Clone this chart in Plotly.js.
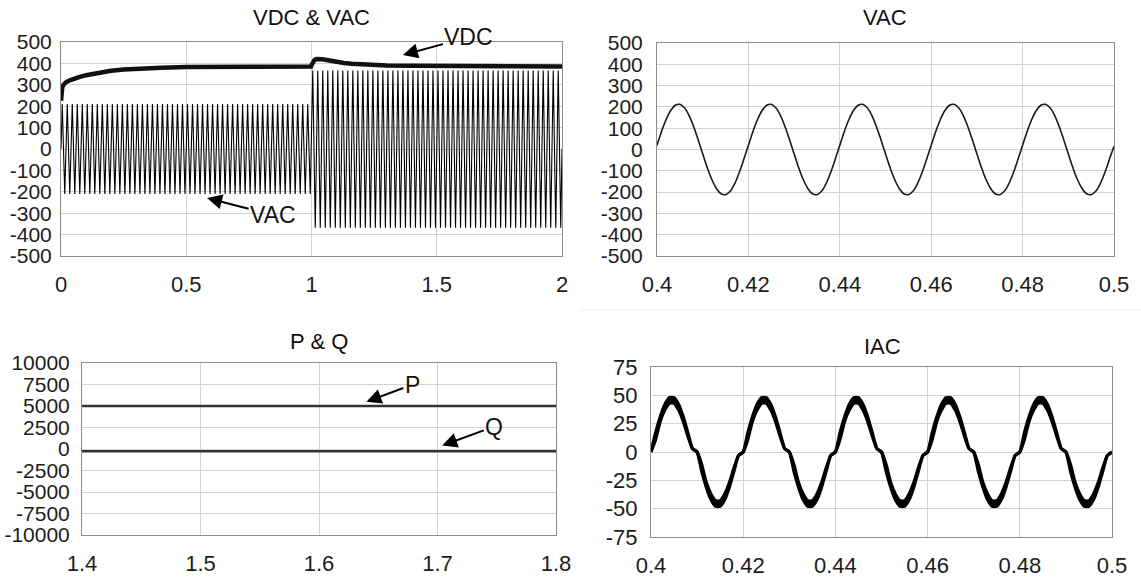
<!DOCTYPE html>
<html><head><meta charset="utf-8">
<script src="https://cdn.plot.ly/plotly-3.0.1.min.js"></script>
<style>html,body{margin:0;padding:0;background:#fff}#chart{width:1141px;height:580px}</style>
</head><body><div id="chart"></div><script>
// ---- Panel 1: VDC & VAC (0..2 s)
const vdcTime  = [0, 0.002, 0.005, 0.01, 0.02, 0.035, 0.05, 0.075, 0.1, 0.15, 0.2, 0.25, 0.3, 0.4, 0.5, 0.6, 0.8, 0.998, 1.0, 1.005, 1.012, 1.02, 1.03, 1.045, 1.06, 1.08, 1.1, 1.13, 1.16, 1.2, 1.25, 1.3, 1.4, 1.5, 1.6, 1.8, 2.0];
const vdcValue = [225, 268, 288, 300, 312, 321, 328, 337, 345, 357, 366, 371, 375, 380, 383, 384, 385, 385, 392, 408, 416, 420, 421, 419, 416, 411, 407, 402, 398, 395, 392, 390, 389, 388, 387, 386, 386];

const vacTime = [0,
0.005,0.015,0.025,0.035,0.045,0.055,0.065,0.075,0.085,0.095,
0.105,0.115,0.125,0.135,0.145,0.155,0.165,0.175,0.185,0.195,
0.205,0.215,0.225,0.235,0.245,0.255,0.265,0.275,0.285,0.295,
0.305,0.315,0.325,0.335,0.345,0.355,0.365,0.375,0.385,0.395,
0.405,0.415,0.425,0.435,0.445,0.455,0.465,0.475,0.485,0.495,
0.505,0.515,0.525,0.535,0.545,0.555,0.565,0.575,0.585,0.595,
0.605,0.615,0.625,0.635,0.645,0.655,0.665,0.675,0.685,0.695,
0.705,0.715,0.725,0.735,0.745,0.755,0.765,0.775,0.785,0.795,
0.805,0.815,0.825,0.835,0.845,0.855,0.865,0.875,0.885,0.895,
0.905,0.915,0.925,0.935,0.945,0.955,0.965,0.975,0.985,0.995,
1.005,1.015,1.025,1.035,1.045,1.055,1.065,1.075,1.085,1.095,
1.105,1.115,1.125,1.135,1.145,1.155,1.165,1.175,1.185,1.195,
1.205,1.215,1.225,1.235,1.245,1.255,1.265,1.275,1.285,1.295,
1.305,1.315,1.325,1.335,1.345,1.355,1.365,1.375,1.385,1.395,
1.405,1.415,1.425,1.435,1.445,1.455,1.465,1.475,1.485,1.495,
1.505,1.515,1.525,1.535,1.545,1.555,1.565,1.575,1.585,1.595,
1.605,1.615,1.625,1.635,1.645,1.655,1.665,1.675,1.685,1.695,
1.705,1.715,1.725,1.735,1.745,1.755,1.765,1.775,1.785,1.795,
1.805,1.815,1.825,1.835,1.845,1.855,1.865,1.875,1.885,1.895,
1.905,1.915,1.925,1.935,1.945,1.955,1.965,1.975,1.985,1.995,
2];
const vacValue = [0,
210,-210,210,-210,210,-210,210,-210,210,-210,
210,-210,210,-210,210,-210,210,-210,210,-210,
210,-210,210,-210,210,-210,210,-210,210,-210,
210,-210,210,-210,210,-210,210,-210,210,-210,
210,-210,210,-210,210,-210,210,-210,210,-210,
210,-210,210,-210,210,-210,210,-210,210,-210,
210,-210,210,-210,210,-210,210,-210,210,-210,
210,-210,210,-210,210,-210,210,-210,210,-210,
210,-210,210,-210,210,-210,210,-210,210,-210,
210,-210,210,-210,210,-210,210,-210,210,-210,
367,-368,367,-368,367,-368,367,-368,367,-368,
367,-368,367,-368,367,-368,367,-368,367,-368,
367,-368,367,-368,367,-368,367,-368,367,-368,
367,-368,367,-368,367,-368,367,-368,367,-368,
367,-368,367,-368,367,-368,367,-368,367,-368,
367,-368,367,-368,367,-368,367,-368,367,-368,
367,-368,367,-368,367,-368,367,-368,367,-368,
367,-368,367,-368,367,-368,367,-368,367,-368,
367,-368,367,-368,367,-368,367,-368,367,-368,
367,-368,367,-368,367,-368,367,-368,367,-368,
0];

// ---- Panels 2 and 4: zoomed time window 0.4..0.5 s
const zoomTime = [
0.400,0.401,0.402,0.403,0.404,0.405,0.406,0.407,0.408,0.409,
0.410,0.411,0.412,0.413,0.414,0.415,0.416,0.417,0.418,0.419,
0.420,0.421,0.422,0.423,0.424,0.425,0.426,0.427,0.428,0.429,
0.430,0.431,0.432,0.433,0.434,0.435,0.436,0.437,0.438,0.439,
0.440,0.441,0.442,0.443,0.444,0.445,0.446,0.447,0.448,0.449,
0.450,0.451,0.452,0.453,0.454,0.455,0.456,0.457,0.458,0.459,
0.460,0.461,0.462,0.463,0.464,0.465,0.466,0.467,0.468,0.469,
0.470,0.471,0.472,0.473,0.474,0.475,0.476,0.477,0.478,0.479,
0.480,0.481,0.482,0.483,0.484,0.485,0.486,0.487,0.488,0.489,
0.490,0.491,0.492,0.493,0.494,0.495,0.496,0.497,0.498,0.499,
0.500];
const vacZoomValue = [
20,85,141,183,208,212,196,160,108,46, -20,-85,-141,-183,-208,-212,-196,-160,-108,-46,
20,85,141,183,208,212,196,160,108,46, -20,-85,-141,-183,-208,-212,-196,-160,-108,-46,
20,85,141,183,208,212,196,160,108,46, -20,-85,-141,-183,-208,-212,-196,-160,-108,-46,
20,85,141,183,208,212,196,160,108,46, -20,-85,-141,-183,-208,-212,-196,-160,-108,-46,
20,85,141,183,208,212,196,160,108,46, -20,-85,-141,-183,-208,-212,-196,-160,-108,-46,
15];
const iacUpper = [
0,17,31,42,48,48,42,31,17,3, 0,-11,-27,-37,-43,-43,-37,-27,-14,-3,
0,17,31,42,48,48,42,31,17,3, 0,-11,-27,-37,-43,-43,-37,-27,-14,-3,
0,17,31,42,48,48,42,31,17,3, 0,-11,-27,-37,-43,-43,-37,-27,-14,-3,
0,17,31,42,48,48,42,31,17,3, 0,-11,-27,-37,-43,-43,-37,-27,-14,-3,
0,17,31,42,48,48,42,31,17,3, 0,-11,-27,-37,-43,-43,-37,-27,-14,-3,
0];
const iacLower = [
0,11,27,37,43,43,37,27,14,3, 0,-17,-31,-42,-48,-48,-42,-31,-17,-3,
0,11,27,37,43,43,37,27,14,3, 0,-17,-31,-42,-48,-48,-42,-31,-17,-3,
0,11,27,37,43,43,37,27,14,3, 0,-17,-31,-42,-48,-48,-42,-31,-17,-3,
0,11,27,37,43,43,37,27,14,3, 0,-17,-31,-42,-48,-48,-42,-31,-17,-3,
0,11,27,37,43,43,37,27,14,3, 0,-17,-31,-42,-48,-48,-42,-31,-17,-3,
0];

// ---- Panel 3: P & Q
const pqTime = [1.4, 1.5, 1.6, 1.7, 1.8];
const pValue = [5000, 5000, 5000, 5000, 5000];
const qValue = [-250, -250, -250, -250, -250];

// ---- Titles, ticks
const panelTitles = ['VDC & VAC', 'VAC', 'P & Q', 'IAC'];
const fullTimeTicks = [0, 0.5, 1, 1.5, 2];
const fullTimeLabels = ['0', '0.5', '1', '1.5', '2'];
const zoomTimeTicks = [0.4, 0.42, 0.44, 0.46, 0.48, 0.5];
const zoomTimeLabels = ['0.4', '0.42', '0.44', '0.46', '0.48', '0.5'];
const pqTimeTicks = [1.4, 1.5, 1.6, 1.7, 1.8];
const pqTimeLabels = ['1.4', '1.5', '1.6', '1.7', '1.8'];
const voltTicks = [-500, -400, -300, -200, -100, 0, 100, 200, 300, 400, 500];
const voltLabels = ['-500', '-400', '-300', '-200', '-100', '0', '100', '200', '300', '400', '500'];
const powerTicks = [-10000, -7500, -5000, -2500, 0, 2500, 5000, 7500, 10000];
const powerLabels = ['-10000', '-7500', '-5000', '-2500', '0', '2500', '5000', '7500', '10000'];
const currentTicks = [-75, -50, -25, 0, 25, 50, 75];
const currentLabels = ['-75', '-50', '-25', '0', '25', '50', '75'];

const FONT = 'Liberation Sans, Arial, Helvetica, sans-serif';
const W = 1141, H = 580;
const px = v => v / W;
const py = v => 1 - v / H;

function axis(extra, size) {
  return Object.assign({
    showline: true, linecolor: '#8c8c8c', linewidth: 1, mirror: true,
    showgrid: true, gridcolor: '#d2d2d2', gridwidth: 1,
    zeroline: false, ticks: '', tickmode: 'array',
    tickfont: {family: FONT, size: size, color: '#1c1c1c'},
    fixedrange: true
  }, extra);
}

const data = [
  {x: vacTime, y: vacValue, xaxis: 'x', yaxis: 'y', mode: 'lines', line: {color: '#000', width: 1.1}, hoverinfo: 'skip'},
  {x: vdcTime, y: vdcValue, xaxis: 'x', yaxis: 'y', mode: 'lines', line: {color: '#111', width: 4.5}, hoverinfo: 'skip'},
  {x: zoomTime, y: vacZoomValue, xaxis: 'x2', yaxis: 'y2', mode: 'lines', line: {color: '#1a1a1a', width: 1.6, shape: 'spline'}, hoverinfo: 'skip'},
  {x: pqTime, y: pValue, xaxis: 'x3', yaxis: 'y3', mode: 'lines', line: {color: '#333', width: 2.5}, hoverinfo: 'skip'},
  {x: pqTime, y: qValue, xaxis: 'x3', yaxis: 'y3', mode: 'lines', line: {color: '#333', width: 2.5}, hoverinfo: 'skip'},
  {x: zoomTime, y: iacLower, xaxis: 'x4', yaxis: 'y4', mode: 'lines', line: {color: '#000', width: 3.2, shape: 'spline', smoothing: 0.5}, hoverinfo: 'skip'},
  {x: zoomTime, y: iacUpper, xaxis: 'x4', yaxis: 'y4', mode: 'lines', fill: 'tonexty', fillcolor: '#000', line: {color: '#000', width: 3.2, shape: 'spline', smoothing: 0.5}, hoverinfo: 'skip'}
];

const arrowStyle = {showarrow: true, arrowhead: 2, arrowsize: 1.5, arrowwidth: 2, arrowcolor: '#000',
  font: {family: FONT, size: 23, color: '#111'}};

function title(text, xc, yc) {
  return {text: text, xref: 'paper', yref: 'paper', x: px(xc), y: py(yc), xanchor: 'center', yanchor: 'middle',
    showarrow: false, font: {family: FONT, size: 22, color: '#111'}};
}

const XS = 22, YS = 21;
const layout = {
  width: W, height: H, margin: {l: 0, r: 0, t: 0, b: 0},
  paper_bgcolor: '#fff', plot_bgcolor: '#fff', showlegend: false,
  xaxis:  axis({domain: [px(61), px(562)], range: [0, 2], tickvals: fullTimeTicks, ticktext: fullTimeLabels, anchor: 'y', ticklabelstandoff: 9}, XS),
  yaxis:  axis({domain: [py(256), py(42)], range: [-500, 500], tickvals: voltTicks, ticktext: voltLabels, anchor: 'x', ticklabelstandoff: 4}, YS),
  xaxis2: axis({domain: [px(657), px(1114)], range: [0.4, 0.5], tickvals: zoomTimeTicks, ticktext: zoomTimeLabels, anchor: 'y2', ticklabelstandoff: 9}, XS),
  yaxis2: axis({domain: [py(256), py(43)], range: [-500, 500], tickvals: voltTicks, ticktext: voltLabels, anchor: 'x2', ticklabelstandoff: 9}, YS),
  xaxis3: axis({domain: [px(82), px(556)], range: [1.4, 1.8], tickvals: pqTimeTicks, ticktext: pqTimeLabels, anchor: 'y3', ticklabelstandoff: 9}, XS),
  yaxis3: axis({domain: [py(535), py(363)], range: [-10000, 10000], tickvals: powerTicks, ticktext: powerLabels, anchor: 'x3', ticklabelstandoff: 7}, YS),
  xaxis4: axis({domain: [px(651), px(1112)], range: [0.4, 0.5], tickvals: zoomTimeTicks, ticktext: zoomTimeLabels, anchor: 'y4', ticklabelstandoff: 9}, XS),
  yaxis4: axis({domain: [py(537), py(367)], range: [-75, 75], tickvals: currentTicks, ticktext: currentLabels, anchor: 'x4', ticklabelstandoff: 8}, 22),
  shapes: [
    {type: 'line', xref: 'paper', yref: 'paper', x0: px(579), x1: 1, y0: py(310), y1: py(310), line: {color: '#eeeeee', width: 1}}
  ],
  annotations: [
    title(panelTitles[0], 311, 17),
    title(panelTitles[1], 885, 17),
    title(panelTitles[2], 319, 341),
    title(panelTitles[3], 882, 346),
    Object.assign({text: 'VDC', xref: 'x', yref: 'y', x: 1.365, y: 439, ax: 66, ay: -18}, arrowStyle),
    Object.assign({text: 'VAC', xref: 'x', yref: 'y', x: 0.583, y: -229, ax: 66, ay: 17}, arrowStyle),
    Object.assign({text: 'P', xref: 'x3', yref: 'y3', x: 1.64, y: 5500, ax: 46, ay: -17}, arrowStyle),
    Object.assign({text: 'Q', xref: 'x3', yref: 'y3', x: 1.704, y: 400, ax: 52, ay: -19}, arrowStyle)
  ]
};

Plotly.newPlot('chart', data, layout, {displayModeBar: false, staticPlot: true});
</script></body></html>
